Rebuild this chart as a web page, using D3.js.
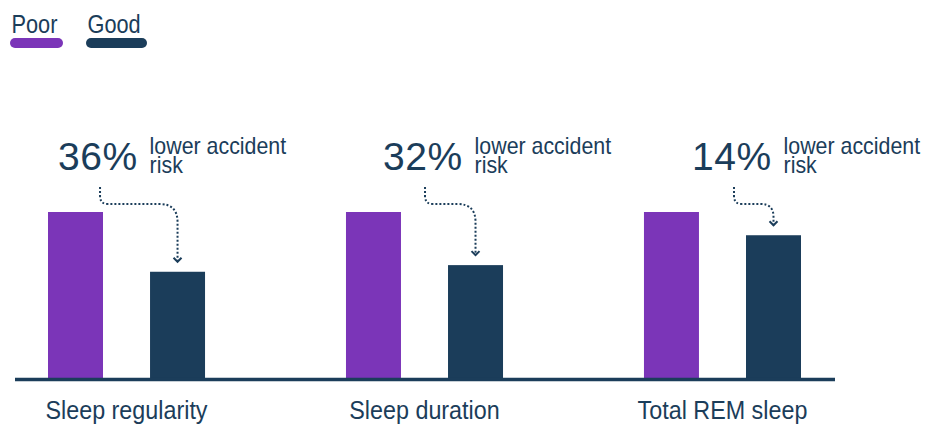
<!DOCTYPE html>
<html>
<head>
<meta charset="utf-8">
<script src="https://cdn.jsdelivr.net/npm/d3@7"></script>
<style>
  html, body { margin: 0; padding: 0; background: #ffffff; }
  svg text { font-family: "Liberation Sans", Arial, sans-serif; fill: #1b3d5a; }
</style>
</head>
<body>
<svg id="chart" width="940" height="424"></svg>
<script>
// Accident risk by sleep metric: "Poor" sleepers indexed to 100
const categories = ["Sleep regularity", "Sleep duration", "Total REM sleep"];
const series = ["Poor", "Good"];
const poorIndex = [100, 100, 100];
const riskReduction = [36, 32, 14];           // % lower accident risk for "Good"
const goodIndex = poorIndex.map((p, i) => p * (1 - riskReduction[i] / 100));
const noteText = ["lower accident", "risk"];

const colors = { Poor: "#7b35b8", Good: "#1b3d5a" };
const ink = "#1b3d5a";

const svg = d3.select("#chart");

// Narrow a text horizontally to give a condensed face
function condense(sel, k) {
  sel.each(function () {
    const L = this.getComputedTextLength();
    d3.select(this).attr("textLength", L * k).attr("lengthAdjust", "spacingAndGlyphs");
  });
  return sel;
}

// Scales
const baseY = 378;
const y = d3.scaleLinear().domain([0, 100]).range([baseY, 212]);
const x0 = d3.scaleBand().domain(categories).range([48, 801]).paddingInner(0.473).paddingOuter(0);
const x1 = d3.scaleBand().domain(series).range([0, x0.bandwidth()]).paddingInner(0.461);

const rows = categories.map((c, i) => ({
  category: c,
  values: [ { key: "Poor", value: poorIndex[i] }, { key: "Good", value: goodIndex[i] } ],
  reduction: riskReduction[i]
}));

// Legend
const legend = svg.append("g").attr("class", "legend");
const legendX = d3.scaleOrdinal().domain(series).range([10, 86]);
const legendW = { Poor: 53, Good: 61 };
series.forEach(s => {
  legend.append("text")
    .attr("x", legendX(s) + 1.5)
    .attr("y", 33)
    .attr("font-size", 26.5)
    .text(s)
    .call(condense, 0.82);
  legend.append("line")
    .attr("x1", legendX(s) + 5)
    .attr("x2", legendX(s) + legendW[s] - 5)
    .attr("y1", 43).attr("y2", 43)
    .attr("stroke", colors[s])
    .attr("stroke-width", 10)
    .attr("stroke-linecap", "round");
});

// Bars
const groups = svg.append("g").selectAll("g.group")
  .data(rows)
  .join("g")
  .attr("class", "group")
  .attr("transform", d => `translate(${x0(d.category)},0)`);

groups.selectAll("rect")
  .data(d => d.values)
  .join("rect")
  .attr("x", d => x1(d.key))
  .attr("width", x1.bandwidth())
  .attr("y", d => y(d.value))
  .attr("height", d => y(0) - y(d.value))
  .attr("fill", d => colors[d.key]);

// Baseline
svg.append("line")
  .attr("x1", 15).attr("x2", 835)
  .attr("y1", baseY + 1.5).attr("y2", baseY + 1.5)
  .attr("stroke", ink)
  .attr("stroke-width", 3.5);

// Category labels
svg.append("g").selectAll("text")
  .data(rows)
  .join("text")
  .attr("x", d => x0(d.category) + x0.bandwidth() / 2)
  .attr("y", 419)
  .attr("text-anchor", "middle")
  .attr("font-size", 26.5)
  .text(d => d.category)
  .call(condense, 0.88);

// Annotations: big percentage, note text, dotted arrow to the "Good" bar
const noteDx = [-119.5, -92.5, -81.5];   // label offset from the Good bar centre
const notes = svg.append("g").attr("class", "notes");
rows.forEach((d, i) => {
  const gx = x0(d.category) + x1("Good") + x1.bandwidth() / 2;
  const gTop = y(goodIndex[i]);
  const left = gx + noteDx[i];

  const num = notes.append("text")
    .attr("x", left)
    .attr("y", 170)
    .attr("font-size", 39)
    .attr("letter-spacing", 0.5)
    .text(d.reduction + "%");
  const numW = num.node().getComputedTextLength();

  const nx = left + numW + 12;
  noteText.forEach((t, k) => {
    notes.append("text")
      .attr("x", nx)
      .attr("y", 154 + k * 19)
      .attr("font-size", 24)
      .text(t)
      .call(condense, 0.89);
  });

  // dotted connector
  const sx = left + 42, sy = 187, hy = 204;
  const tipY = gTop - 10;
  const r2 = Math.min(18, (tipY - hy) * 0.6, (gx - sx) * 0.4);
  const p = d3.path();
  p.moveTo(sx, sy);
  p.lineTo(sx, hy - 8);
  p.quadraticCurveTo(sx, hy, sx + 8, hy);
  p.lineTo(gx - r2, hy);
  p.quadraticCurveTo(gx, hy, gx, hy + r2);
  p.lineTo(gx, tipY);
  notes.append("path")
    .attr("d", p.toString())
    .attr("fill", "none")
    .attr("stroke", ink)
    .attr("stroke-width", 2)
    .attr("stroke-dasharray", "2,2");
  notes.append("path")
    .attr("d", `M${gx - 4},${tipY - 4}L${gx},${tipY}L${gx + 4},${tipY - 4}`)
    .attr("fill", "none")
    .attr("stroke", ink)
    .attr("stroke-width", 2);
});
</script>
</body>
</html>
